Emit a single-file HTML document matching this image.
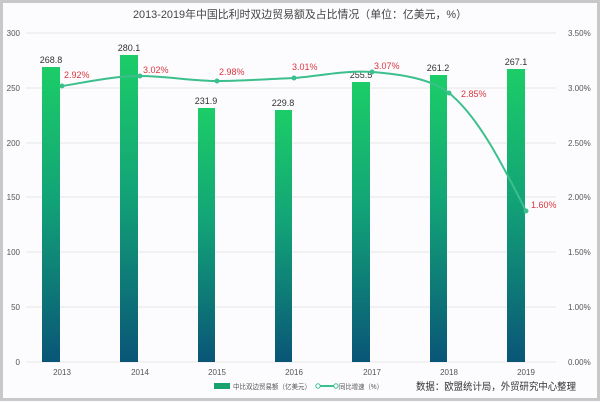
<!DOCTYPE html>
<html><head><meta charset="utf-8"><style>
html,body{margin:0;padding:0;background:#fff;}
svg{display:block;font-family:"Liberation Sans","Noto Sans CJK SC",sans-serif;}
</style></head><body>
<svg width="600" height="403" viewBox="0 0 600 403" xmlns="http://www.w3.org/2000/svg">
<defs>
<linearGradient id="g" x1="0" y1="0" x2="0" y2="1">
<stop offset="0" stop-color="#1ccd67"/>
<stop offset="0.45" stop-color="#12a377"/>
<stop offset="1" stop-color="#0a5577"/>
</linearGradient>
</defs>
<rect x="0" y="0" width="600" height="403" fill="#fcfcfe"/>
<rect x="1.5" y="1.5" width="597" height="398" fill="none" stroke="#c8c8c8" stroke-width="3"/>
<text x="300" y="18" font-size="11" fill="#444" text-anchor="middle" textLength="334" lengthAdjust="spacingAndGlyphs">2013-2019年中国比利时双边贸易额及占比情况（单位：亿美元，%）</text>
<g stroke="#e6e6e6" stroke-width="1">
<line x1="26" y1="33" x2="556" y2="33"/>
<line x1="26" y1="88" x2="556" y2="88"/>
<line x1="26" y1="143" x2="556" y2="143"/>
<line x1="26" y1="197" x2="556" y2="197"/>
<line x1="26" y1="252" x2="556" y2="252"/>
<line x1="26" y1="307" x2="556" y2="307"/>
<line x1="26" y1="362" x2="556" y2="362"/>
</g>
<g font-size="8" fill="#555" text-anchor="end">
<text x="20" y="36">300</text><text x="20" y="91">250</text><text x="20" y="146">200</text>
<text x="20" y="200">150</text><text x="20" y="255">100</text><text x="20" y="310">50</text><text x="20" y="365">0</text>
</g>
<g font-size="8" fill="#555">
<text x="568" y="36">3.50%</text><text x="568" y="91">3.00%</text><text x="568" y="146">2.50%</text>
<text x="568" y="200">2.00%</text><text x="568" y="255">1.50%</text><text x="568" y="310">1.00%</text>
<text x="568" y="365">0.00%</text>
</g>
<g fill="url(#g)">
<rect x="42" y="67" width="18" height="295"/>
<rect x="120" y="55" width="18" height="307"/>
<rect x="198" y="108" width="17" height="254"/>
<rect x="275" y="110" width="17" height="252"/>
<rect x="352" y="82" width="18" height="280"/>
<rect x="430" y="75" width="17" height="287"/>
<rect x="507" y="69" width="18" height="293"/>
</g>
<g font-size="9" fill="#333" text-anchor="middle">
<text x="51" y="63">268.8</text><text x="129" y="51">280.1</text><text x="206" y="104">231.9</text>
<text x="283" y="106">229.8</text><text x="361" y="78">255.5</text><text x="438" y="71">261.2</text><text x="516" y="65">267.1</text>
</g>
<g font-size="8" fill="#555" text-anchor="middle">
<text x="62" y="375">2013</text><text x="140" y="375">2014</text><text x="217" y="375">2015</text>
<text x="294" y="375">2016</text><text x="372" y="375">2017</text><text x="449" y="375">2018</text><text x="526" y="375">2019</text>
</g>
<path d="M62,86 C88,82 113,76 140,76 C166,76 191,81 217,81 C243,81 268,79 294,78 C320,76 346,70 372,72 C398,74 430,78 449,93 C480,118 505,170 526,211" fill="none" stroke="#3cbf8c" stroke-width="2"/>
<g fill="#3cbf8c">
<circle cx="62" cy="86" r="2.5"/><circle cx="140" cy="76" r="2.5"/><circle cx="217" cy="81" r="2.5"/>
<circle cx="294" cy="78" r="2.5"/><circle cx="372" cy="72" r="2.5"/><circle cx="449" cy="93" r="2.5"/><circle cx="526" cy="211" r="2.5"/>
</g>
<g font-size="9" fill="#d9363e">
<text x="64" y="78">2.92%</text><text x="143" y="73">3.02%</text><text x="219" y="75">2.98%</text>
<text x="292" y="70">3.01%</text><text x="374" y="69">3.07%</text><text x="461" y="97">2.85%</text><text x="531" y="208">1.60%</text>
</g>
<rect x="214" y="383" width="16" height="6" fill="#17a26e"/>
<text x="233" y="389" font-size="7" fill="#555" textLength="78" lengthAdjust="spacingAndGlyphs">中比双边贸易额（亿美元）</text>
<line x1="316" y1="386" x2="338" y2="386" stroke="#3cbf8c" stroke-width="2"/>
<circle cx="318" cy="386" r="2.2" fill="#fff" stroke="#3cbf8c"/><circle cx="336" cy="386" r="2.2" fill="#fff" stroke="#3cbf8c"/>
<text x="339" y="389" font-size="7" fill="#555" textLength="44" lengthAdjust="spacingAndGlyphs">同比增速（%）</text>
<text x="416" y="390" font-size="10" fill="#333" textLength="160" lengthAdjust="spacingAndGlyphs">数据：欧盟统计局，外贸研究中心整理</text>
</svg>
</body></html>
